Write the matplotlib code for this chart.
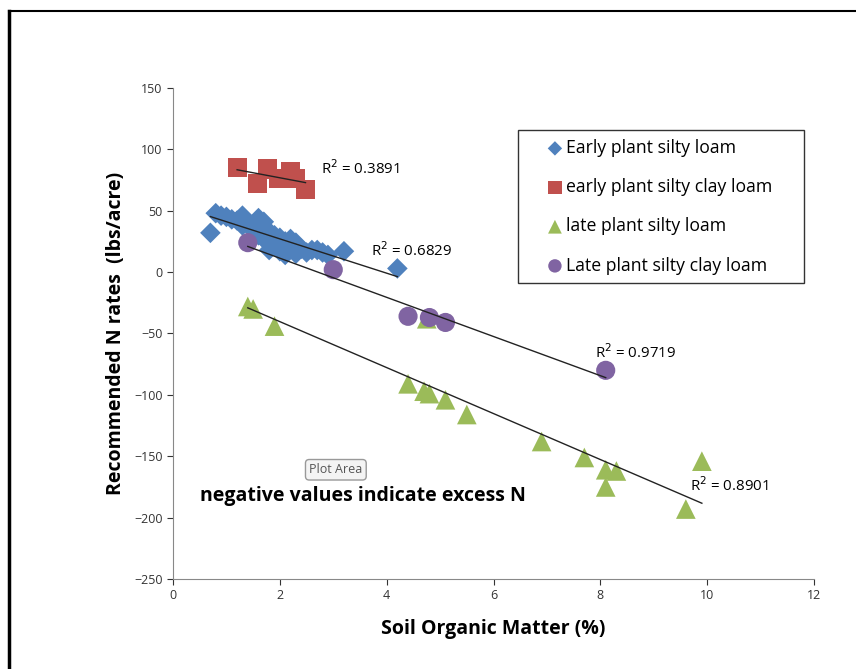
import matplotlib.pyplot as plt
import numpy as np
from matplotlib.lines import Line2D

plt.rcParams['font.family'] = ['Open Sans', 'DejaVu Sans']

# Early plant silty loam
x_early_sl = [0.7, 0.8, 0.9, 1.0, 1.1, 1.2, 1.3, 1.3, 1.4, 1.5, 1.5, 1.6, 1.6, 1.7, 1.7,
              1.8, 1.8, 1.9, 1.9, 2.0, 2.0, 2.1, 2.1, 2.2, 2.2, 2.3, 2.3, 2.4, 2.5, 2.6,
              2.7, 2.8, 2.9, 3.2, 4.2]
y_early_sl = [32, 48, 46, 45, 43, 42, 46, 38, 40, 37, 34, 44, 30, 41, 27,
              33, 18, 30, 22, 28, 17, 25, 14, 27, 20, 24, 15, 19, 16, 18,
              18, 16, 14, 17, 3]
# early plant silty clay loam
x_early_scl = [1.2, 1.77, 1.58, 2.2, 1.97, 2.3, 2.48]
y_early_scl = [85, 84, 72, 82, 76, 76, 67]
# late plant silty loam
x_late_sl = [1.4, 1.5, 1.9, 4.4, 4.75, 4.7, 4.8, 5.1, 5.5, 6.9, 7.7, 8.1, 8.1, 8.3, 9.6, 9.9]
y_late_sl = [-28, -30, -44, -91, -38, -97, -99, -104, -116, -138, -151, -161, -175, -162, -193, -154]
# Late plant silty clay loam
x_late_scl = [1.4, 3.0, 4.4, 4.8, 5.1, 8.1]
y_late_scl = [24, 2, -36, -37, -41, -80]

r2_labels = ['R$^2$ = 0.6829', 'R$^2$ = 0.3891', 'R$^2$ = 0.8901', 'R$^2$ = 0.9719']

fig = plt.figure(figsize=(8.56, 6.69), dpi=100)
ax = fig.add_axes([0.2021, 0.1345, 0.7489, 0.734])

series = [
    (x_early_sl, y_early_sl, 'D', 110, '#4F81BD', 'Early plant silty loam'),
    (x_early_scl, y_early_scl, 's', 190, '#C0504D', 'early plant silty clay loam'),
    (x_late_sl, y_late_sl, '^', 200, '#9BBB59', 'late plant silty loam'),
    (x_late_scl, y_late_scl, 'o', 190, '#8064A2', 'Late plant silty clay loam'),
]
for xs, ys, mk, sz, col, lab in series:
    ax.scatter(xs, ys, marker=mk, s=sz, color=col, edgecolors='none', label=lab, zorder=3)

# linear trendlines
for xs, ys, _, _, _, _ in series:
    xs = np.array(xs); ys = np.array(ys)
    p = np.polyfit(xs, ys, 1)
    xx = np.array([xs.min(), xs.max()])
    ax.plot(xx, np.polyval(p, xx), color='#222222', lw=1.0, zorder=4)

# R2 labels
ax.text(3.7, 13, r2_labels[0], fontsize=10.8)
ax.text(2.77, 80, r2_labels[1], fontsize=10.8)
ax.text(9.68, -178, r2_labels[2], fontsize=10.8)
ax.text(7.9, -70, r2_labels[3], fontsize=10.8)

ax.text(0.5, -182, 'negative values indicate excess N', fontsize=14, fontweight='bold', va='center')
ax.text(2.55, -161, 'Plot Area', fontsize=9, color='#555555', va='center',
        bbox=dict(boxstyle='round,pad=0.3', fc='#f4f4f4', ec='#999999', lw=1))

ax.set_xlim(0, 12)
ax.set_ylim(-250, 150)
ax.set_xticks(np.arange(0, 13, 2))
ax.set_yticks(np.arange(-250, 151, 50))
ax.tick_params(labelsize=9, direction='out', length=4, colors='#333333')
ax.spines['top'].set_visible(False)
ax.spines['right'].set_visible(False)
ax.spines['left'].set_color('#888888')
ax.spines['bottom'].set_color('#888888')
ax.set_xlabel('Soil Organic Matter (%)', fontsize=14, fontweight='bold', labelpad=12)
ax.set_ylabel('Recommended N rates  (lbs/acre)', fontsize=14, fontweight='bold', labelpad=6)

leg = ax.legend(loc='upper left', bbox_to_anchor=(0.538, 0.603, 0.446, 0.311), mode='expand',
                borderaxespad=0, fontsize=12.7, frameon=True, fancybox=False, edgecolor='black',
                handletextpad=-1.0, labelspacing=1.2, borderpad=0.5, markerscale=0.7,
                handlelength=3.2)
leg.get_frame().set_linewidth(1.0)

# outer chart border
fig.add_artist(Line2D([0.011, 0.011], [0, 0.984], color='black', lw=2.5))
fig.add_artist(Line2D([0.011, 1.0], [0.984, 0.984], color='black', lw=1.5))

plt.savefig('out.png', dpi=100, facecolor='white')
